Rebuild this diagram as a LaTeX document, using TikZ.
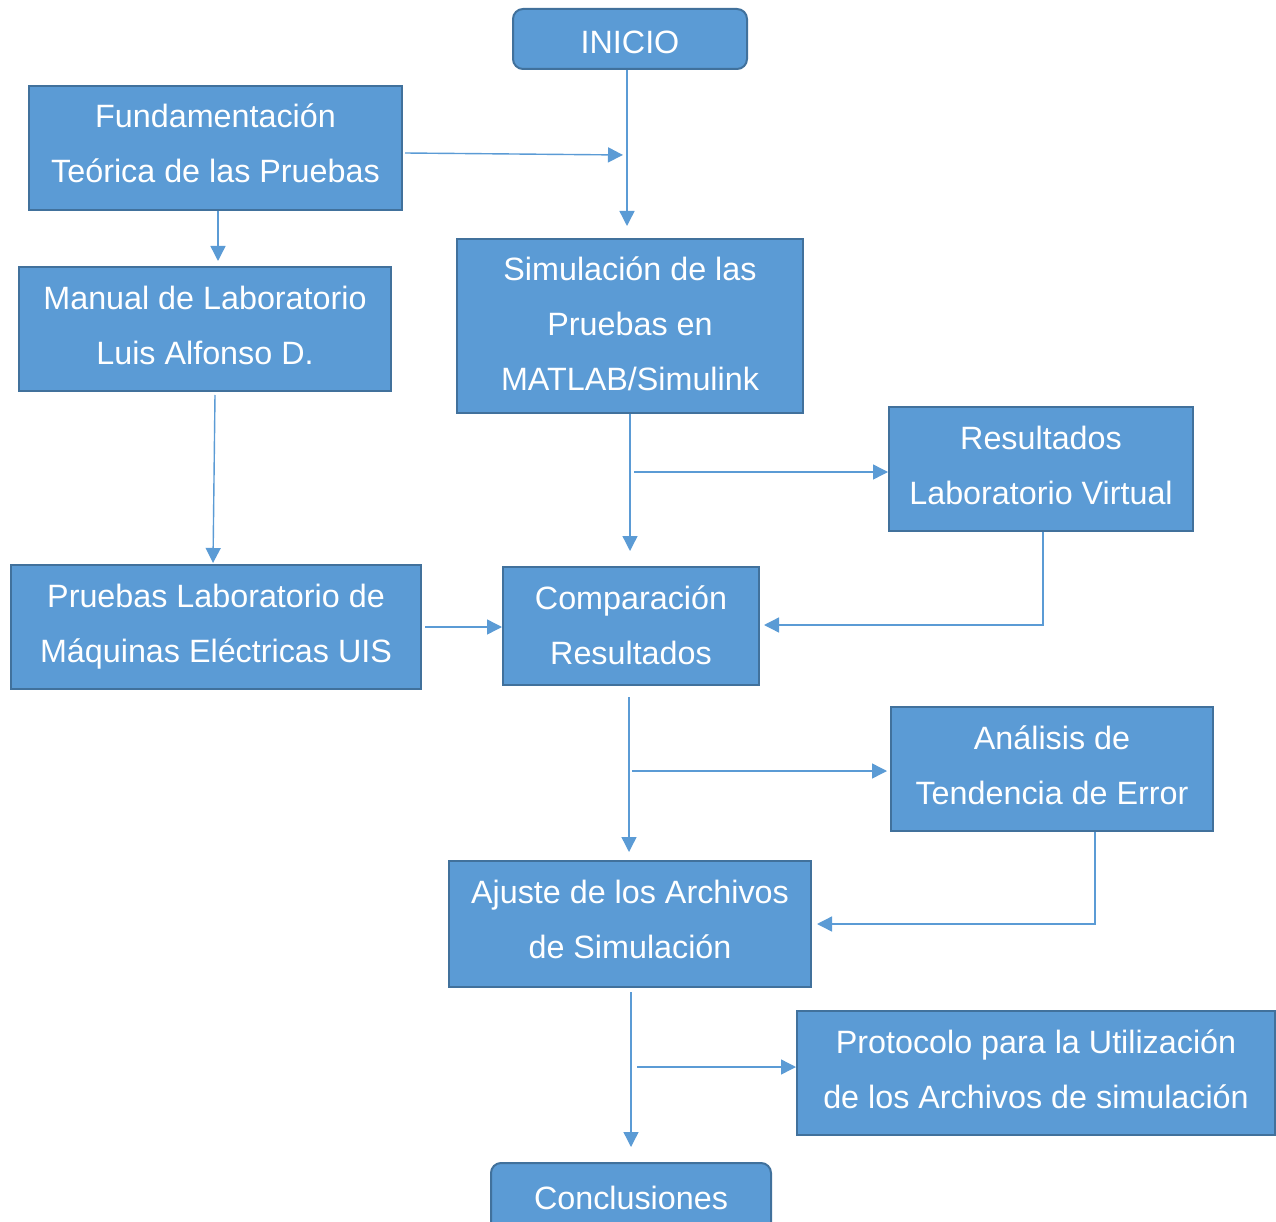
\documentclass[tikz,border=0pt]{standalone}
\usepackage{fontspec}
\setmainfont{Liberation Sans}
\usetikzlibrary{arrows.meta}
\definecolor{boxfill}{HTML}{5B9BD5}
\definecolor{boxline}{HTML}{41719C}
\definecolor{wire}{HTML}{5B9BD5}
% invisible depth at the end of the last line, lifting the text block
\newcommand{\lowstrut}[1]{\rule[-#1]{0pt}{#1}}
\begin{document}
\begin{tikzpicture}[x=1pt,y=-1pt,
  box/.style={draw=boxline,line width=2pt,fill=boxfill,text=white,inner sep=0pt,
    align=center,font=\fontsize{32.3}{55}\selectfont},
  term/.style={box,rounded corners=10pt},
  link/.style={draw=wire,line width=1.4pt,-{Triangle[length=15pt,width=15pt]}}]
\useasboundingbox (0,0) rectangle (1276,1222);
% process boxes: centre, width, height
\node[term,minimum width=234pt,minimum height=60pt] (inicio) at (630,39) {\rule{0pt}{29pt}INICIO};
\node[box,minimum width=373pt,minimum height=124pt] (fund) at (215.5,148) {Fundamentación\\Teórica de las Pruebas\lowstrut{10pt}};
\node[box,minimum width=372pt,minimum height=124pt] (manual) at (205,329) {Manual de Laboratorio\\Luis Alfonso D.\lowstrut{8pt}};
\node[box,minimum width=346pt,minimum height=174pt] (sim) at (630,326) {Simulación de las\\Pruebas en\\MATLAB/Simulink\lowstrut{4pt}};
\node[box,minimum width=304pt,minimum height=124pt] (virtual) at (1041,469) {Resultados\\Laboratorio Virtual\lowstrut{7pt}};
\node[box,minimum width=410pt,minimum height=124pt] (lab) at (216,627) {Pruebas Laboratorio de\\Máquinas Eléctricas UIS\lowstrut{2pt}};
\node[box,minimum width=256pt,minimum height=118pt] (comp) at (631,626) {Comparación\\Resultados\lowstrut{1pt}};
\node[box,minimum width=322pt,minimum height=124pt] (error) at (1052,769) {Análisis de\\Tendencia de Error\lowstrut{8pt}};
\node[box,minimum width=362pt,minimum height=126pt] (ajuste) at (630,924) {Ajuste de los Archivos\\de Simulación\lowstrut{9pt}};
\node[box,minimum width=478pt,minimum height=124pt] (proto) at (1036,1073) {Protocolo para la Utilización\\de los Archivos de simulación\lowstrut{8pt}};
\node[term,minimum width=280pt,minimum height=70pt,anchor=north] (concl) at (631,1162) {Conclusiones};
% free ends of the connectors
\coordinate (t1) at (627,226);
\coordinate (s1) at (405,153);
\coordinate (t2) at (623,155);
\coordinate (t3) at (218,261);
\coordinate (s4) at (215,395);
\coordinate (t4) at (213,563);
\coordinate (t5) at (630,551);
\coordinate (s6) at (634,472);
\coordinate (s7) at (425,627);
\coordinate (s8) at (629,697);
\coordinate (t8) at (629,852);
\coordinate (s9) at (632,771);
\coordinate (s10) at (631,992);
\coordinate (t10) at (631,1147);
\coordinate (s11) at (637,1067);
\coordinate (b1) at (1043,625);
\coordinate (b2) at (1095,924);
% connectors
\draw[link] (inicio.south -| t1) -- (t1);
\draw[link] (s1) -- (t2);
\draw[link] (fund.south -| t3) -- (t3);
\draw[link] (s4) -- (t4);
\draw[link] (sim.south -| t5) -- (t5);
\draw[link] (s6) -- (s6 -| virtual.west);
\draw[link] (s7) -- (s7 -| comp.west);
\draw[link] (virtual.south -| b1) -- (b1) -- ([xshift=4pt]b1 -| comp.east);
\draw[link] (s8) -- (t8);
\draw[link] (s9) -- ([xshift=-3pt]s9 -| error.west);
\draw[link] (error.south -| b2) -- (b2) -- ([xshift=5pt]b2 -| ajuste.east);
\draw[link] (s10) -- (t10);
\draw[link] (s11) -- (s11 -| proto.west);
\end{tikzpicture}
\end{document}
